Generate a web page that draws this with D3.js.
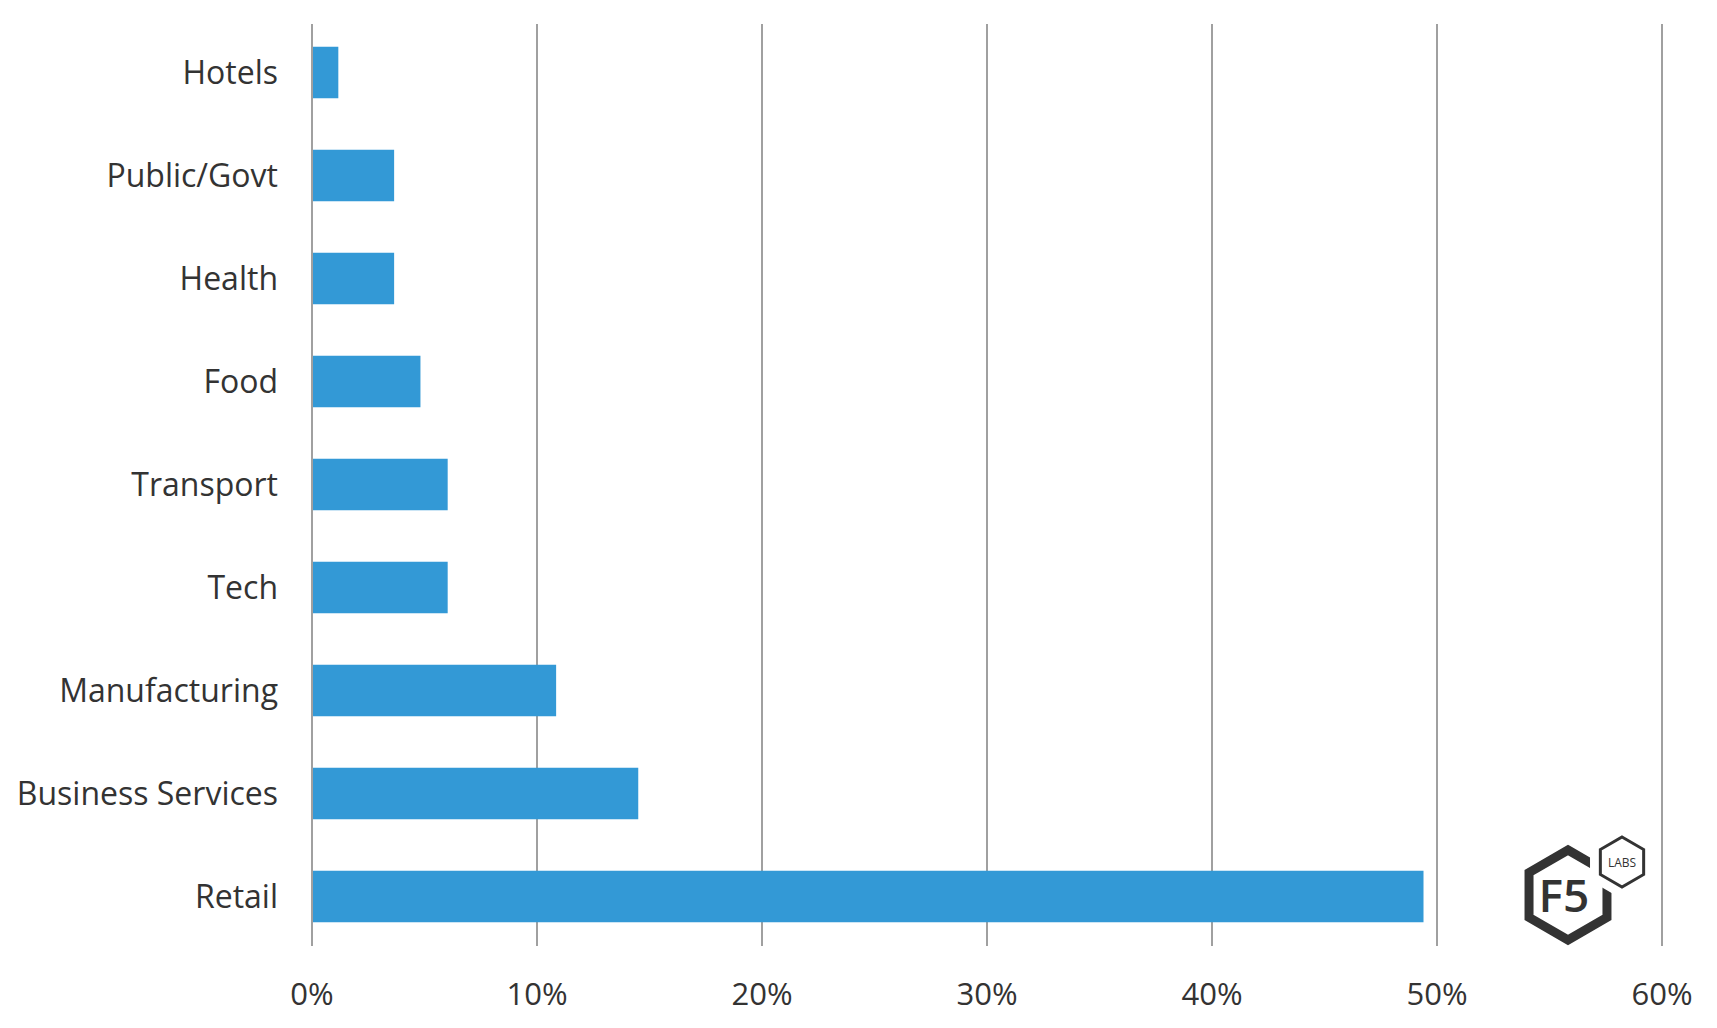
<!DOCTYPE html>
<html><head><meta charset="utf-8">
<script src="https://cdn.jsdelivr.net/npm/d3@7"></script>
<style>body{margin:0;background:#fff}svg{display:block}</style>
</head><body><svg id="chart"></svg>
<script>
const categories = ['Hotels', 'Public/Govt', 'Health', 'Food', 'Transport', 'Tech', 'Manufacturing', 'Business Services', 'Retail']
const values = [0.0117, 0.0365, 0.0365, 0.0482, 0.0603, 0.0603, 0.1085, 0.145, 0.494]
const xTicks = [0, 0.1, 0.2, 0.3, 0.4, 0.5, 0.6]

const W = 1717, H = 1028
const margin = { top: 21, left: 312 }
const height = 948 - margin.top

const svg = d3.select('#chart').attr('width', W).attr('height', H)
const g = svg.append('g').attr('transform', `translate(${margin.left},${margin.top})`)

const x = d3.scaleLinear().domain([0, 0.6]).range([0, 1350])
const y = d3.scaleBand().domain(categories).range([0, height]).paddingInner(0.5).paddingOuter(0.25)

// vertical gridlines
g.selectAll('line.grid').data(xTicks).enter().append('line')
  .attr('x1', d => x(d)).attr('x2', d => x(d))
  .attr('y1', 3).attr('y2', 925)
  .attr('stroke', '#a0a0a0').attr('stroke-width', 2)

// bars
g.selectAll('rect.bar').data(values).enter().append('rect')
  .attr('x', x(0) + 1)
  .attr('y', (d, i) => y(categories[i]))
  .attr('width', d => x(d) - 1)
  .attr('height', y.bandwidth())
  .attr('fill', '#3399d6')

// category labels
g.selectAll('text.cat').data(categories).enter().append('text')
  .attr('x', -34).attr('y', d => y(d) + y.bandwidth() / 2)
  .attr('dy', '0.35em').attr('text-anchor', 'end')
  .style('font-family', 'Open Sans').style('font-size', '32px').style('fill', '#333')
  .text(d => d)

// x axis labels
g.selectAll('text.tick').data(xTicks).enter().append('text')
  .attr('x', d => x(d)).attr('y', 973)
  .attr('dy', '0.35em').attr('text-anchor', 'middle')
  .style('font-family', 'Open Sans').style('font-size', '31px').style('fill', '#333')
  .text(d3.format('.0%'))

// F5 Labs logo
const hex = (cx, cy, r) => d3.range(6).map(k => {
  const a = Math.PI / 3 * k - Math.PI / 2
  return [cx + r * Math.cos(a), cy + r * Math.sin(a)]
})
const logo = svg.append('g')
logo.append('path').attr('d', 'M' + hex(1568, 895, 45).join('L') + 'Z')
  .attr('fill', 'none').attr('stroke', '#333').attr('stroke-width', 9)
logo.append('path').attr('d', 'M' + hex(1622, 862, 30).join('L') + 'Z')
  .attr('fill', '#fff').attr('stroke', '#fff').attr('stroke-width', 12)
logo.append('path').attr('d', 'M' + hex(1622, 862, 25).join('L') + 'Z')
  .attr('fill', '#fff').attr('stroke', '#333').attr('stroke-width', 3)
logo.append('text').attr('x', 1564).attr('y', 912).attr('text-anchor', 'middle')
  .style('font-family', 'Open Sans').style('font-weight', 600).style('font-size', '46px').style('fill', '#333').text('F5')
logo.append('text').attr('x', 1622).attr('y', 867).attr('text-anchor', 'middle')
  .style('font-family', 'Open Sans').style('font-size', '12px').style('fill', '#333').text('LABS')
</script></body></html>
